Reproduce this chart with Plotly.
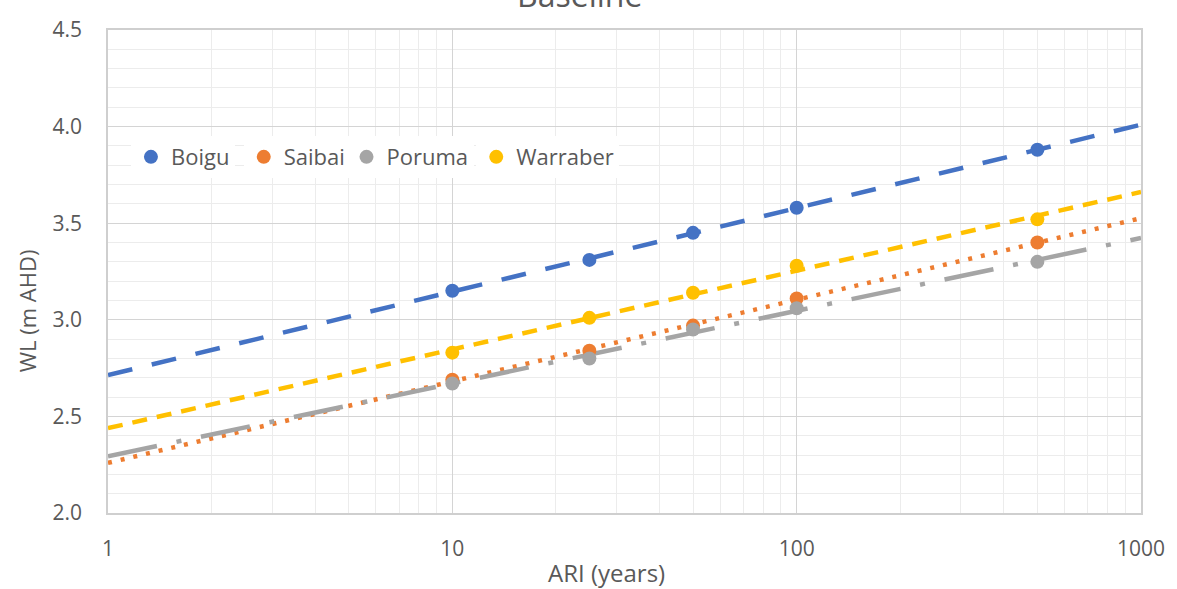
import numpy as np
import plotly.graph_objects as go

ari = [10, 25, 50, 100, 500]
series_names = ["Boigu", "Saibai", "Poruma", "Warraber"]
boigu = [3.15, 3.31, 3.45, 3.58, 3.88]
saibai = [2.69, 2.84, 2.97, 3.11, 3.40]
poruma = [2.67, 2.80, 2.95, 3.06, 3.30]
warraber = [2.83, 3.01, 3.14, 3.28, 3.52]
x_ticks = [1, 10, 100, 1000]
x_tick_text = ["1", "10", "100", "1000"]

values = [boigu, saibai, poruma, warraber]
colors = ["#4472C4", "#ED7D31", "#A5A5A5", "#FFC000"]
dashes = ["25px,20px", "4px,9px", "50px,20px,5px,20px", "15px,10px"]
legend_x = [0.0222, 0.1314, 0.2309, 0.3565]

font_family = "Open Sans, sans-serif"
txt = "#595959"

fig = go.Figure()
trend_x = np.logspace(0, 3, 60)
for name, vals, col, dash in zip(series_names, values, colors, dashes):
    slope, intercept = np.polyfit(np.log10(ari), vals, 1)
    fig.add_trace(go.Scatter(x=trend_x, y=intercept + slope * np.log10(trend_x),
                             mode="lines", line=dict(color=col, width=4.5, dash=dash),
                             showlegend=False, hoverinfo="skip"))
legend_layout = {}
for i, (name, vals, col) in enumerate(zip(series_names, values, colors)):
    key = "legend" if i == 0 else f"legend{i + 1}"
    fig.add_trace(go.Scatter(x=ari, y=vals, mode="markers", name=name, legend=key,
                             marker=dict(color=col, size=14)))
    legend_layout[key] = dict(orientation="h", x=legend_x[i], y=0.737,
                              xanchor="left", yanchor="middle",
                              font=dict(size=22, color=txt), bgcolor="white",
                              itemwidth=30)

fig.update_layout(
    width=1177, height=589,
    margin=dict(l=108, r=34, t=30, b=76),
    paper_bgcolor="white", plot_bgcolor="white",
    font=dict(family=font_family, color=txt),
    showlegend=True,
    xaxis=dict(type="log", range=[0, 3], tickvals=x_ticks, ticktext=x_tick_text,
               showgrid=True, gridcolor="#d4d4d4", gridwidth=1,
               minor=dict(dtick="D1", showgrid=True, gridcolor="#ececec", ticks=""),
               showline=True, linecolor="#cfcfcf", linewidth=1.5, mirror=True,
               ticks="", tickfont=dict(size=21, color=txt), ticklabelstandoff=16,
               zeroline=False),
    yaxis=dict(range=[2, 4.5], dtick=0.5, tickformat=".1f",
               showgrid=True, gridcolor="#d4d4d4", gridwidth=1,
               minor=dict(dtick=0.1, showgrid=True, gridcolor="#ececec", ticks=""),
               showline=True, linecolor="#cfcfcf", linewidth=1.5, mirror=True,
               ticks="", tickfont=dict(size=21, color=txt), ticklabelstandoff=20,
               zeroline=False),
    **legend_layout,
)
fig.add_annotation(text="Baseline", xref="paper", yref="paper", x=0.456, y=1.073,
                   xanchor="center", yanchor="middle", showarrow=False,
                   font=dict(size=32, color=txt, family=font_family))
fig.add_annotation(text="WL (m AHD)", xref="paper", yref="paper", x=-0.0783, y=0.418,
                   xanchor="center", yanchor="middle", showarrow=False, textangle=-90,
                   font=dict(size=22, color=txt, family=font_family))
fig.add_annotation(text="ARI (years)", xref="paper", yref="paper", x=0.483, y=-0.124,
                   xanchor="center", yanchor="middle", showarrow=False,
                   font=dict(size=24, color=txt, family=font_family))
fig.write_html("out.html")
